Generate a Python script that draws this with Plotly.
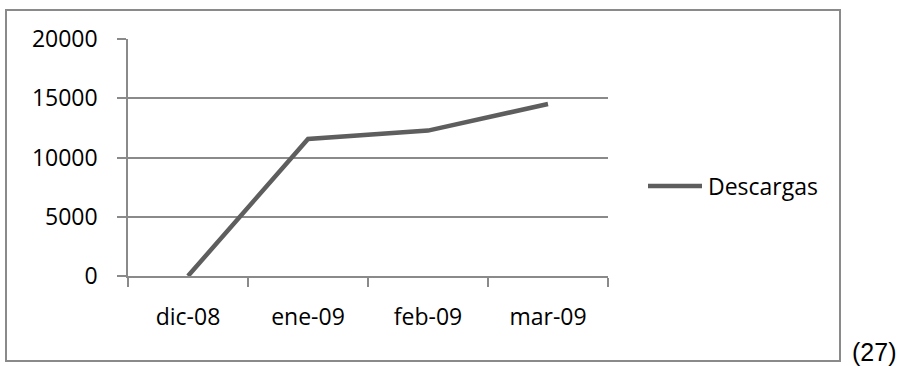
import plotly.graph_objects as go

# Monthly download counts
months = ["dic-08", "ene-09", "feb-09", "mar-09"]
descargas = [0, 11570, 12270, 14520]
y_ticks = [0, 5000, 10000, 15000, 20000]
series_name = "Descargas"
note_text = "(27)"

FIG_W, FIG_H = 907, 366
M_L, M_R, M_T, M_B = 128, 299, 39, 90
PLOT_W = FIG_W - M_L - M_R
PLOT_H = FIG_H - M_T - M_B

LINE_COLOR = "#5e5e5e"
GRID_COLOR = "#8a8a8a"
FONT = "Open Sans"
FONT_SIZE = 23


def px_x(px):
    """Pixel column -> paper x coordinate."""
    return (px - M_L) / PLOT_W


def px_y(py):
    """Pixel row -> paper y coordinate."""
    return (FIG_H - M_B - py) / PLOT_H


fig = go.Figure()
fig.add_trace(
    go.Scatter(
        x=months,
        y=descargas,
        mode="lines",
        name=series_name,
        line=dict(color=LINE_COLOR, width=4.5),
        showlegend=False,
    )
)

shapes = [
    # chart frame
    dict(
        type="rect", xref="paper", yref="paper",
        x0=px_x(6), x1=px_x(840), y0=px_y(361), y1=px_y(10),
        line=dict(color=GRID_COLOR, width=2), layer="below",
    ),
    # legend key
    dict(
        type="line", xref="paper", yref="paper",
        x0=px_x(648), x1=px_x(702), y0=px_y(186), y1=px_y(186),
        line=dict(color=LINE_COLOR, width=4.5),
    ),
]

annotations = [
    dict(
        text=series_name, xref="paper", yref="paper",
        x=px_x(706), y=px_y(186), xanchor="left", yanchor="middle",
        showarrow=False, font=dict(family=FONT, size=FONT_SIZE, color="black"),
    ),
    dict(
        text=note_text, xref="paper", yref="paper",
        x=px_x(850), y=px_y(352), xanchor="left", yanchor="middle",
        showarrow=False,
        font=dict(family="Liberation Sans, Arial", size=25, color="black"),
    ),
]

fig.update_layout(
    width=FIG_W,
    height=FIG_H,
    autosize=False,
    margin=dict(l=M_L, r=M_R, t=M_T, b=M_B, pad=0),
    paper_bgcolor="white",
    plot_bgcolor="white",
    font=dict(family=FONT, size=FONT_SIZE, color="black"),
    shapes=shapes,
    annotations=annotations,
    showlegend=False,
)

fig.update_xaxes(
    type="category",
    range=[-0.5, len(months) - 0.5],
    showgrid=False,
    showline=True,
    linecolor=GRID_COLOR,
    linewidth=1.5,
    ticks="outside",
    tickson="boundaries",
    ticklen=9,
    tickwidth=1.5,
    tickcolor=GRID_COLOR,
    ticklabelstandoff=20,
    tickfont=dict(family=FONT, size=FONT_SIZE, color="black"),
    zeroline=False,
)

fig.update_yaxes(
    range=[0, 20000],
    tickvals=y_ticks,
    ticktext=[str(v) for v in y_ticks],
    showgrid=True,
    gridcolor=GRID_COLOR,
    gridwidth=1.5,
    showline=True,
    linecolor=GRID_COLOR,
    linewidth=1.5,
    ticks="outside",
    ticklen=9,
    tickwidth=1.5,
    tickcolor=GRID_COLOR,
    ticklabelstandoff=15,
    tickfont=dict(family=FONT, size=FONT_SIZE, color="black"),
    zeroline=False,
)

fig.write_html("out.html")
